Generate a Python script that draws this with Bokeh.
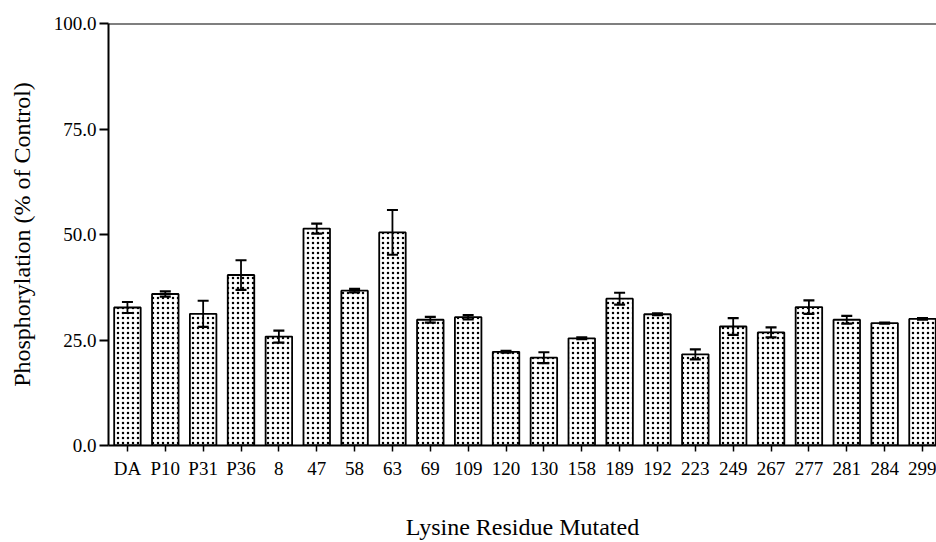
from bokeh.plotting import figure
from bokeh.models import (Range1d, FixedTicker, PrintfTickFormatter, Whisker,
                          TeeHead, ColumnDataSource, Span)
from bokeh.embed import file_html
from bokeh.resources import INLINE

categories = ["DA", "P10", "P31", "P36", "8", "47", "58", "63", "69", "109",
              "120", "130", "158", "189", "192", "223", "249", "267", "277",
              "281", "284", "299"]
values = [32.7, 35.9, 31.2, 40.4, 25.8, 51.4, 36.7, 50.5, 29.8, 30.4, 22.2,
          20.8, 25.4, 34.8, 31.1, 21.6, 28.2, 26.8, 32.8, 29.8, 29.0, 30.0]
errors = [1.3, 0.6, 3.1, 3.5, 1.4, 1.2, 0.4, 5.3, 0.7, 0.5, 0.2, 1.3, 0.2,
          1.4, 0.2, 1.2, 2.0, 1.2, 1.6, 0.9, 0.1, 0.2]
y_ticks = [0, 25, 50, 75, 100]

x = [i + 0.5 for i in range(len(categories))]
src = ColumnDataSource(dict(
    x=x, top=values,
    upper=[v + e for v, e in zip(values, errors)],
    lower=[v - e for v, e in zip(values, errors)],
))

FONT = "Liberation Serif"

p = figure(width=936, height=542, output_backend="svg", toolbar_location=None,
           x_range=Range1d(0, 21.87), y_range=Range1d(0, 100),
           min_border_left=108, min_border_right=0, min_border_top=23,
           min_border_bottom=96)
p.outline_line_color = None
p.xgrid.grid_line_color = None
p.ygrid.grid_line_color = None

p.vbar(x="x", top="top", width=0.7, bottom=0, source=src,
       fill_color="white", line_color="black", line_width=1.8,
       hatch_pattern="dot", hatch_color="black", hatch_scale=5,
       hatch_weight=0.7)

w = Whisker(base="x", upper="upper", lower="lower", source=src,
            line_color="black", line_width=1.8, level="overlay",
            upper_head=TeeHead(size=11, line_width=2.2, line_color="black"),
            lower_head=TeeHead(size=11, line_width=2.2, line_color="black"))
p.add_layout(w)

p.add_layout(Span(location=100, dimension="width", line_color="black",
                  line_width=2))

# y axis
p.yaxis.ticker = FixedTicker(ticks=y_ticks)
p.yaxis.formatter = PrintfTickFormatter(format="%.1f")
p.yaxis.minor_tick_line_color = None
p.yaxis.major_tick_out = 9
p.yaxis.major_tick_in = 0
p.yaxis.major_tick_line_width = 2
p.yaxis.axis_line_width = 2
p.yaxis.major_label_standoff = 3
p.yaxis.major_label_text_font = FONT
p.yaxis.major_label_text_font_size = "19px"
p.yaxis.major_label_text_color = "black"
p.yaxis.axis_label = "Phosphorylation (% of Control)"
p.yaxis.axis_label_text_font = FONT
p.yaxis.axis_label_text_font_size = "24px"
p.yaxis.axis_label_text_font_style = "normal"
p.yaxis.axis_label_text_color = "black"
p.yaxis.axis_label_standoff = 16

# x axis
p.xaxis.ticker = FixedTicker(ticks=x)
p.xaxis.major_label_overrides = {xi: c for xi, c in zip(x, categories)}
p.xaxis.minor_tick_line_color = None
p.xaxis.major_tick_out = 6
p.xaxis.major_tick_in = 0
p.xaxis.major_tick_line_width = 1.5
p.xaxis.axis_line_width = 2
p.xaxis.major_label_standoff = 6
p.xaxis.major_label_text_font = FONT
p.xaxis.major_label_text_font_size = "19px"
p.xaxis.major_label_text_color = "black"
p.xaxis.axis_label = "Lysine Residue Mutated"
p.xaxis.axis_label_text_font = FONT
p.xaxis.axis_label_text_font_size = "24px"
p.xaxis.axis_label_text_font_style = "normal"
p.xaxis.axis_label_text_color = "black"
p.xaxis.axis_label_standoff = 32

open("out.html", "w").write(file_html(p, INLINE))
